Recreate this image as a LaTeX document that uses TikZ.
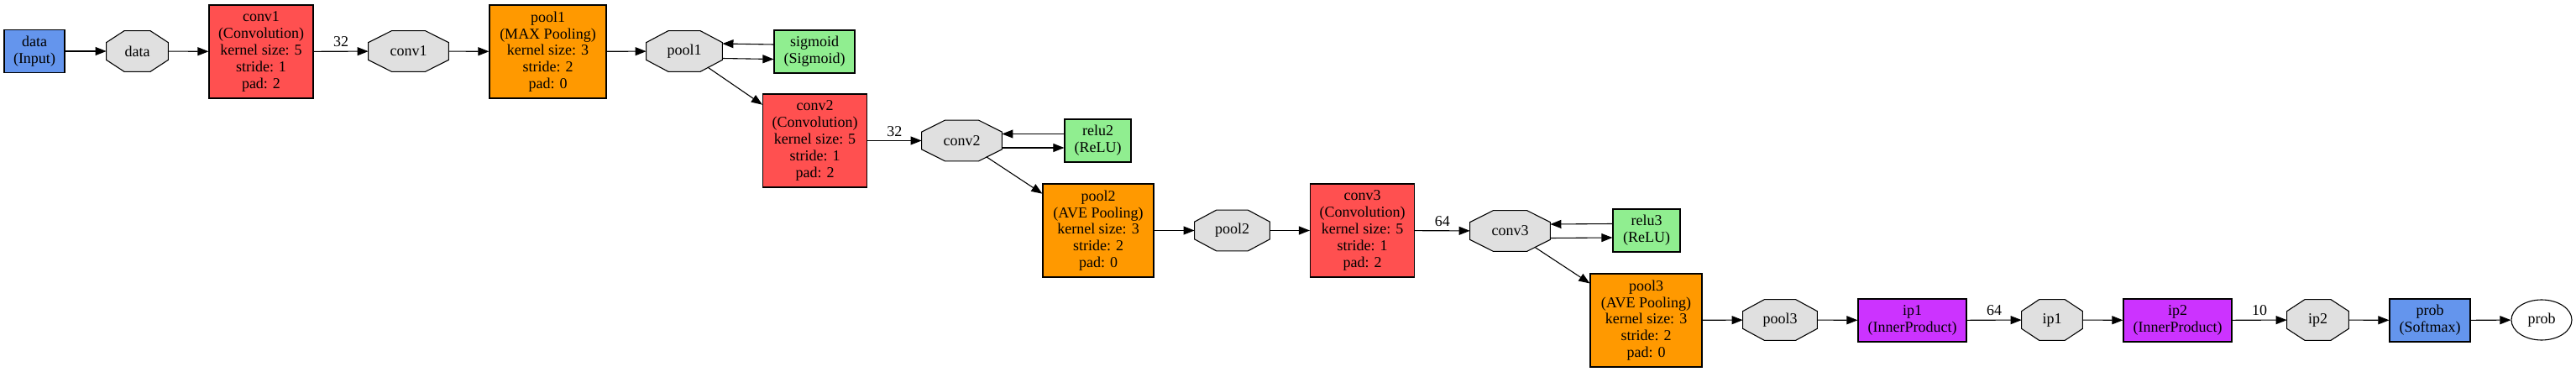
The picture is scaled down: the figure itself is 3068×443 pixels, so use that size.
\documentclass[tikz,border=0pt]{standalone}
\usepackage{fontspec}
\setmainfont{Liberation Serif}
\usetikzlibrary{arrows.meta,calc,backgrounds,shapes.geometric}
\definecolor{cblue}{HTML}{6495ED}
\definecolor{cred}{HTML}{FF5050}
\definecolor{corange}{HTML}{FF9900}
\definecolor{cpurple}{HTML}{CC33FF}
\definecolor{cgreen}{HTML}{90EE90}
\definecolor{cgray}{HTML}{E0E0E0}
\def\px{0.55pt}
\newcommand\lbox[7]{\node[lay,fill=#2,minimum width=#5*\px,minimum height=#6*\px] (#1) at (#3,#4) {#7};}
\newcommand\octo[5]{%
  \node[blobtxt,minimum width=#4*\px,minimum height=48*\px] (#1) at (#2,#3) {#5};
  \pgfmathsetmacro\chx{0.2929*#4}%
  \begin{pgfonlayer}{background}
  \filldraw[blobfill] ($(#1.north west)+(\chx,0)$) -- ($(#1.north east)+(-\chx,0)$)
    -- ($(#1.north east)+(0,14)$) -- ($(#1.south east)+(0,-14)$)
    -- ($(#1.south east)+(-\chx,0)$) -- ($(#1.south west)+(\chx,0)$)
    -- ($(#1.south west)+(0,-14)$) -- ($(#1.north west)+(0,14)$) -- cycle;
  \end{pgfonlayer}}
\begin{document}
\begin{tikzpicture}[x=0.55pt,y=-0.55pt,font=\fontsize{9.9}{10.9}\selectfont,
  lay/.style={draw=black,line width=0.6pt,inner sep=0pt,align=center},
  blobtxt/.style={inner sep=0pt,align=center},
  blobfill/.style={fill=cgray,draw=black,line width=0.6pt},
  edge/.style={draw=black,line width=0.6pt,-{Triangle[length=7.2pt,width=5.5pt]}},
  lbl/.style={inner sep=2.5pt,anchor=south}]
\useasboundingbox (0,0) rectangle (3068,443);
% row 1
\lbox{dataIn}{cblue}{41}{61}{72}{51}{data\\(Input)}
\octo{dataO}{163.5}{61}{73}{data}
\lbox{conv1}{cred}{311}{61.5}{124}{111}{conv1\\(Convolution)\\kernel size: 5\\stride: 1\\pad: 2}
\octo{conv1O}{486.5}{61}{95}{conv1}
\lbox{pool1}{corange}{652.5}{61.5}{139}{111}{pool1\\(MAX Pooling)\\kernel size: 3\\stride: 2\\pad: 0}
\octo{pool1O}{815}{61}{90}{pool1}
\lbox{sigm}{cgreen}{970}{61.5}{96}{51}{sigmoid\\(Sigmoid)}
% row 2
\lbox{conv2}{cred}{970.5}{167.5}{124}{111}{conv2\\(Convolution)\\kernel size: 5\\stride: 1\\pad: 2}
\octo{conv2O}{1145.5}{167.5}{95}{conv2}
\lbox{relu2}{cgreen}{1307.5}{167.5}{79}{51}{relu2\\(ReLU)}
% row 3
\lbox{pool2}{corange}{1308}{274.5}{132}{111}{pool2\\(AVE Pooling)\\kernel size: 3\\stride: 2\\pad: 0}
\octo{pool2O}{1467.5}{274.5}{89}{pool2}
\lbox{conv3}{cred}{1622.5}{274.5}{124}{111}{conv3\\(Convolution)\\kernel size: 5\\stride: 1\\pad: 2}
\octo{conv3O}{1798.5}{275}{95}{conv3}
\lbox{relu3}{cgreen}{1961}{274.5}{80}{51}{relu3\\(ReLU)}
% row 4
\lbox{pool3}{corange}{1960.5}{381.5}{133}{111}{pool3\\(AVE Pooling)\\kernel size: 3\\stride: 2\\pad: 0}
\octo{pool3O}{2120}{381}{88}{pool3}
\lbox{ip1}{cpurple}{2277.5}{381.5}{129}{51}{ip1\\(InnerProduct)}
\octo{ip1O}{2444}{381}{72}{ip1}
\lbox{ip2}{cpurple}{2593.5}{381.5}{129}{51}{ip2\\(InnerProduct)}
\octo{ip2O}{2760.5}{381}{73}{ip2}
\lbox{prob}{cblue}{2894}{381.5}{96}{51}{prob\\(Softmax)}
\node[ellipse,draw=black,line width=0.6pt,fill=white,inner sep=0pt,minimum width=72*\px,minimum height=48*\px] (probE) at (3027,381) {prob};
% coordinates for diagonal starts on octagon chamfers
\coordinate (p1oSE) at ($(pool1O)+(27.9,19.1)$);
\coordinate (c2oSE) at ($(conv2O)+(29.2,19.2)$);
\coordinate (c3oSE) at ($(conv3O)+(29.2,19.2)$);
% edges
\draw[edge] (dataIn) -- (dataO);
\draw[edge] (dataO) -- (conv1);
\draw[edge] (conv1) -- node[lbl]{32} (conv1O);
\draw[edge] (conv1O) -- (pool1);
\draw[edge] (pool1) -- (pool1O);
\draw[edge] ([yshift=8.5*\px]sigm.west) -- ([yshift=9*\px]pool1O.east);
\draw[edge] ([yshift=-8.5*\px]pool1O.east) -- ([yshift=-9*\px]sigm.west);
\draw[edge] (p1oSE) -- (conv2);
\draw[edge] (conv2) -- node[lbl]{32} (conv2O);
\draw[edge] ([yshift=8*\px]relu2.west) -- ([yshift=8*\px]conv2O.east);
\draw[edge] ([yshift=-8.5*\px]conv2O.east) -- ([yshift=-8.5*\px]relu2.west);
\draw[edge] (c2oSE) -- (pool2);
\draw[edge] (pool2) -- (pool2O);
\draw[edge] (pool2O) -- (conv3);
\draw[edge] (conv3) -- node[lbl]{64} (conv3O);
\draw[edge] ([yshift=8*\px]relu3.west) -- ([yshift=8*\px]conv3O.east);
\draw[edge] ([yshift=-8.5*\px]conv3O.east) -- ([yshift=-8.5*\px]relu3.west);
\draw[edge] (c3oSE) -- (pool3);
\draw[edge] (pool3) -- (pool3O);
\draw[edge] (pool3O) -- (ip1);
\draw[edge] (ip1) -- node[lbl]{64} (ip1O);
\draw[edge] (ip1O) -- (ip2);
\draw[edge] (ip2) -- node[lbl]{10} (ip2O);
\draw[edge] (ip2O) -- (prob);
\draw[edge] (prob) -- (probE);
\end{tikzpicture}
\end{document}
